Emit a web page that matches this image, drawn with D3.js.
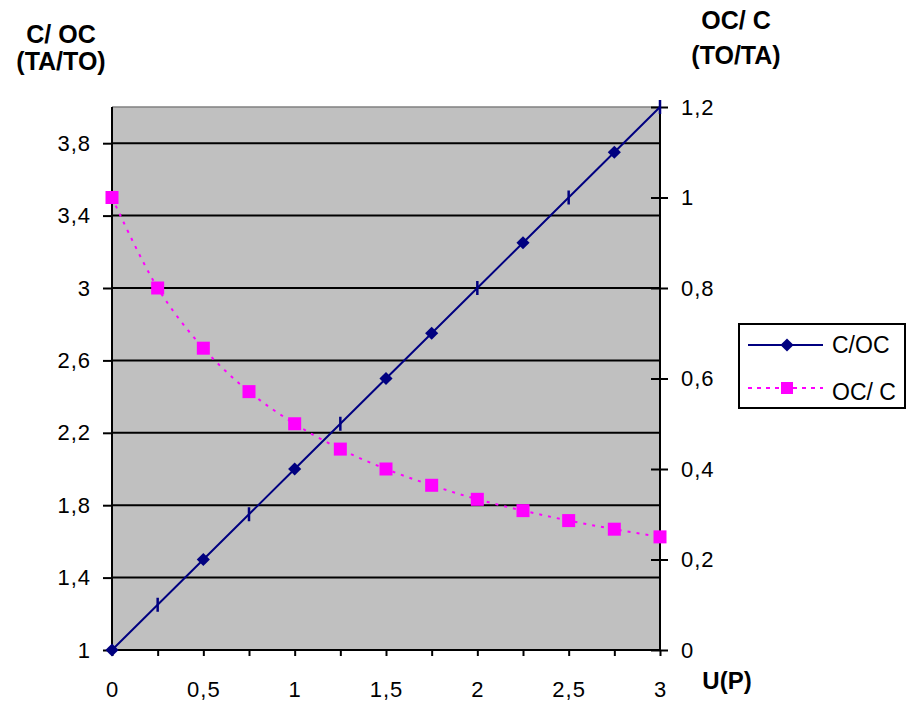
<!DOCTYPE html>
<meta charset="utf-8">
<script src="https://d3js.org/d3.v7.min.js"></script>
<style>
  body { margin: 0; background: #fff; }
  text { font-family: "Liberation Sans", Arial, sans-serif; }
</style>
<div id="chart"></div>
<script>

// data
var uValues   = [0, 0.25, 0.5, 0.75, 1, 1.25, 1.5, 1.75, 2, 2.25, 2.5, 2.75, 3];
var cOverOC   = [1, 1.25, 1.5, 1.75, 2, 2.25, 2.5, 2.75, 3, 3.25, 3.5, 3.75, 4];
var cMarkers  = ["d", "|", "d", "|", "d", "|", "d", "d", "|", "d", "|", "d", "|"];
var ocOverC   = [1, 0.8, 0.667, 0.571, 0.5, 0.444, 0.4, 0.364, 0.333, 0.308, 0.286, 0.267, 0.25];
var xTicks    = [0, 0.5, 1, 1.5, 2, 2.5, 3];
var xMinor    = [0, 0.25, 0.5, 0.75, 1, 1.25, 1.5, 1.75, 2, 2.25, 2.5, 2.75, 3];
var leftTicks = [1, 1.4, 1.8, 2.2, 2.6, 3, 3.4, 3.8];
var rightTicks = [0, 0.2, 0.4, 0.6, 0.8, 1, 1.2];

var W = 907, H = 702;
var plot = {left: 112, right: 660, top: 107, bottom: 650};
var fmt = function(d) { return String(d).replace(".", ","); };

var svg = d3.select("#chart").append("svg")
    .attr("width", W).attr("height", H);

var x = d3.scaleLinear().domain([0, 3]).range([plot.left, plot.right]);
var yL = d3.scaleLinear().domain([1, 4]).range([plot.bottom, plot.top]);
var yR = d3.scaleLinear().domain([0, 1.2]).range([plot.bottom, plot.top]);

// plot background
svg.append("rect")
    .attr("x", plot.left).attr("y", plot.top)
    .attr("width", plot.right - plot.left).attr("height", plot.bottom - plot.top)
    .attr("fill", "#c0c0c0");

// top border
svg.append("line")
    .attr("x1", plot.left).attr("x2", plot.right)
    .attr("y1", plot.top).attr("y2", plot.top)
    .attr("stroke", "#808080").attr("stroke-width", 1.5);

// grid lines
svg.selectAll(".grid").data(leftTicks.slice(1)).enter().append("line")
    .attr("x1", plot.left).attr("x2", plot.right)
    .attr("y1", function(d) { return yL(d); }).attr("y2", function(d) { return yL(d); })
    .attr("stroke", "#000").attr("stroke-width", 2);

// left axis
var gL = svg.append("g").attr("transform", "translate(" + plot.left + ",0)")
    .call(d3.axisLeft(yL).tickValues(leftTicks).tickFormat(fmt).tickSize(9).tickPadding(12));
// bottom axis
var gB = svg.append("g").attr("transform", "translate(0," + plot.bottom + ")")
    .call(d3.axisBottom(x).tickValues(xMinor).tickSize(6).tickPadding(0)
      .tickFormat(function(d) { return xTicks.indexOf(d) >= 0 ? fmt(d) : ""; }));
gB.selectAll("text").attr("y", 47).attr("dy", null);
// right axis (cross ticks)
var gR = svg.append("g").attr("transform", "translate(" + plot.right + ",0)")
    .call(d3.axisRight(yR).tickValues(rightTicks).tickFormat(fmt).tickSize(8).tickPadding(13));
gR.selectAll(".tick line").attr("x1", -9);

[gL, gB, gR].forEach(function(g) {
  g.select(".domain").attr("stroke", "#000").attr("stroke-width", 2);
  g.selectAll(".tick line").attr("stroke", "#000").attr("stroke-width", 2);
  g.selectAll("text").attr("fill", "#000")
    .style("font-family", "'Liberation Sans', Arial, sans-serif")
    .style("font-size", "22px").style("letter-spacing", "1px");
});
gL.select(".domain").attr("d", "M0," + plot.top + "V" + plot.bottom);
gB.select(".domain").attr("d", "M" + plot.left + ",0H" + plot.right);
gR.select(".domain").attr("d", "M0," + plot.top + "V" + plot.bottom);

// OC/ C series (right axis)
var dataR = uValues.map(function(u, i) { return {u: u, v: ocOverC[i]}; });
svg.append("path").datum(dataR)
    .attr("fill", "none").attr("stroke", "#ff00ff").attr("stroke-width", 2)
    .attr("stroke-dasharray", "3,6")
    .attr("d", d3.line().curve(d3.curveCatmullRom)
      .x(function(d) { return x(d.u); }).y(function(d) { return yR(d.v); }));
svg.selectAll(".sq").data(dataR).enter().append("rect")
    .attr("x", function(d) { return x(d.u) - 6.5; })
    .attr("y", function(d) { return yR(d.v) - 6.5; })
    .attr("width", 13).attr("height", 13).attr("fill", "#ff00ff");

// C/OC series (left axis)
var dataL = uValues.map(function(u, i) { return {u: u, v: cOverOC[i], m: cMarkers[i]}; });
svg.append("path").datum(dataL)
    .attr("fill", "none").attr("stroke", "#000080").attr("stroke-width", 2)
    .attr("d", d3.line()
      .x(function(d) { return x(d.u); }).y(function(d) { return yL(d.v); }));
svg.selectAll(".dm").data(dataL.filter(function(d) { return d.m === "d"; })).enter()
  .append("path")
    .attr("d", d3.symbol().type(d3.symbolDiamond2).size(110))
    .attr("transform", function(d) { return "translate(" + x(d.u) + "," + yL(d.v) + ")"; })
    .attr("fill", "#000080");
svg.selectAll(".bar").data(dataL.filter(function(d) { return d.m === "|"; })).enter()
  .append("line")
    .attr("x1", function(d) { return x(d.u); }).attr("x2", function(d) { return x(d.u); })
    .attr("y1", function(d) { return yL(d.v) - 7; }).attr("y2", function(d) { return yL(d.v) + 7; })
    .attr("stroke", "#000080").attr("stroke-width", 2.5);

// axis titles
function title(tx, ty, s, size) {
  svg.append("text").attr("x", tx).attr("y", ty).attr("text-anchor", "middle")
    .style("font-size", (size || 25) + "px").style("font-weight", "bold").text(s);
}
title(61, 43, "C/ OC");
title(61, 70, "(TA/TO)");
title(736, 29, "OC/ C");
title(736, 64, "(TO/TA)");
title(727, 689, "U(P)", 24);

// legend
var lg = svg.append("g");
lg.append("rect").attr("x", 739).attr("y", 324).attr("width", 166).attr("height", 84)
    .attr("fill", "#fff").attr("stroke", "#000").attr("stroke-width", 2);
lg.append("line").attr("x1", 748).attr("x2", 823).attr("y1", 345).attr("y2", 345)
    .attr("stroke", "#000080").attr("stroke-width", 2);
lg.append("path").attr("d", d3.symbol().type(d3.symbolDiamond2).size(110))
    .attr("transform", "translate(787,345)").attr("fill", "#000080");
lg.append("text").attr("x", 832).attr("y", 353).style("font-size", "23px").text("C/OC");
lg.append("line").attr("x1", 748).attr("x2", 823).attr("y1", 388).attr("y2", 388)
    .attr("stroke", "#ff00ff").attr("stroke-width", 2).attr("stroke-dasharray", "4,5");
lg.append("rect").attr("x", 781).attr("y", 382).attr("width", 12).attr("height", 12)
    .attr("fill", "#ff00ff");
lg.append("text").attr("x", 832).attr("y", 400).style("font-size", "23px").text("OC/ C");

</script>
